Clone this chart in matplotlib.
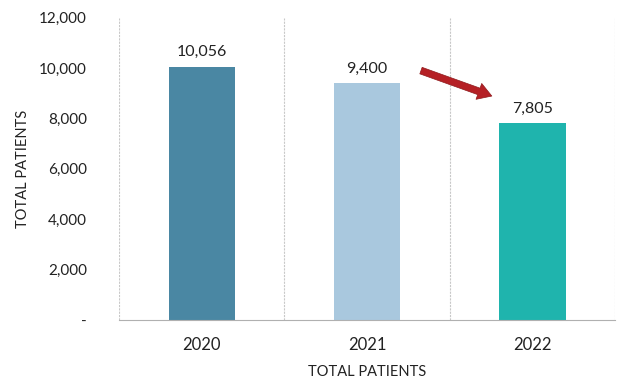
import numpy as np
import matplotlib
matplotlib.use("Agg")
import matplotlib.pyplot as plt
from matplotlib.ticker import FuncFormatter

plt.rcParams.update({"font.family": ["Lato", "DejaVu Sans"], "font.size": 11})

years = ["2020", "2021", "2022"]
patients = [10056, 9400, 7805]
colors = ["#4a87a3", "#a9c8de", "#1fb4ad"]

fig, ax = plt.subplots(figsize=(6.17, 3.79), dpi=100)
fig.subplots_adjust(left=0.193, right=0.997, bottom=0.156, top=0.953)

x = np.arange(len(years))
bars = ax.bar(x, patients, width=0.4, color=colors)
for xi, v in zip(x, patients):
    ax.text(xi, v + 300, f"{v:,}", ha="center", va="bottom", fontsize=11.5, color="#222222")

ax.set_xlim(-0.5, len(years) - 0.5)
ax.set_ylim(0, 12000)
ax.set_yticks(range(0, 12001, 2000))
ax.yaxis.set_major_formatter(FuncFormatter(lambda v, p: "-" if v == 0 else f"{int(v):,}"))
ax.set_xticks(x)
ax.set_xticklabels(years, fontsize=12)
ax.tick_params(axis="both", length=0, colors="#222222")
ax.tick_params(axis="y", pad=23)
ax.tick_params(axis="x", pad=12)

for b in np.arange(-0.5, len(years), 1.0):
    ax.axvline(b, color="#c8c8c8", lw=0.8, ls=(0, (2, 1)))
for s in ["top", "right", "left"]:
    ax.spines[s].set_visible(False)
ax.spines["bottom"].set_color("#b0b0b0")
ax.spines["bottom"].set_linewidth(0.8)

ax.set_ylabel("TOTAL PATIENTS", fontsize=10.5, labelpad=7, color="#222222")
ax.set_xlabel("TOTAL PATIENTS", fontsize=10.5, labelpad=9, color="#222222")

# trend arrow between 2021 and 2022
ax.annotate("", xy=(1.77, patients[2] + 1050), xytext=(1.31, patients[1] + 540),
            arrowprops=dict(arrowstyle="simple,head_width=1.1,head_length=0.9,tail_width=0.45",
                            color="#b52025", ec="#8e1a1c", lw=0.5))

fig.savefig("out.png")
